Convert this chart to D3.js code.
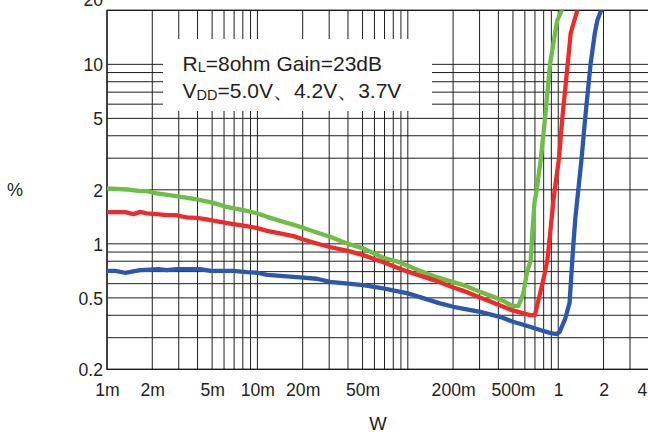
<!DOCTYPE html>
<html><head><meta charset="utf-8">
<script src="https://cdn.jsdelivr.net/npm/d3@7"></script>
<style>
html,body{margin:0;padding:0;background:#fff;}
svg{display:block;font-family:"Liberation Sans",Arial,sans-serif;}
</style></head>
<body>
<svg id="c" width="648" height="437"></svg>
<script>
// ---- data ----
const greenX = [0.001,0.00135,0.00166,0.00184,0.00214,0.0029,0.00395,0.0051,0.0062,0.0081,0.01,0.0116,0.0149,0.0192,0.0248,0.0304,0.0406,0.0506,0.0687,0.0887,0.1146,0.1478,0.2009,0.234,0.302,0.371,0.432,0.491,0.543,0.586,0.618,0.656,0.675,0.695,0.719,0.767,0.817,0.882,0.952,0.986,1.055];
const greenY = [2.035,2.008,1.965,1.965,1.909,1.842,1.767,1.692,1.607,1.541,1.477,1.414,1.326,1.244,1.157,1.094,0.996,0.943,0.836,0.788,0.720,0.661,0.612,0.589,0.540,0.507,0.481,0.452,0.450,0.529,0.684,0.811,1.2,1.7,2.0,3.0,5.0,10,14.9,17.6,20];
const redX = [0.001,0.00132,0.0015,0.00166,0.00184,0.00214,0.00249,0.00283,0.00339,0.00395,0.0046,0.00564,0.00692,0.0085,0.01,0.0116,0.0141,0.0174,0.0202,0.0248,0.0302,0.0406,0.0506,0.0687,0.1,0.1478,0.2009,0.234,0.302,0.371,0.432,0.491,0.557,0.649,0.70,0.757,0.796,0.847,0.883,0.93,0.948,1.012,1.064,1.156,1.21,1.28,1.34];
const redY = [1.502,1.502,1.464,1.507,1.477,1.464,1.445,1.445,1.403,1.396,1.367,1.326,1.287,1.255,1.223,1.181,1.143,1.104,1.058,1.005,0.96,0.91,0.865,0.79,0.70,0.63,0.571,0.547,0.503,0.469,0.446,0.427,0.415,0.401,0.401,0.529,0.628,0.811,1.14,1.75,2.0,3.0,5.0,10,14.9,17.6,20];
const blueX = [0.001,0.00113,0.00132,0.00166,0.0022,0.0025,0.0029,0.00415,0.0049,0.0069,0.0085,0.01,0.0116,0.0149,0.0192,0.0248,0.0304,0.0506,0.0687,0.1,0.1637,0.2009,0.302,0.41,0.50,0.649,0.757,0.88,0.973,1.02,1.11,1.19,1.25,1.30,1.36,1.43,1.51,1.64,1.75,1.82,1.93];
const blueY = [0.707,0.707,0.690,0.714,0.723,0.714,0.723,0.723,0.707,0.707,0.696,0.690,0.672,0.661,0.650,0.639,0.614,0.589,0.565,0.53,0.466,0.446,0.418,0.392,0.368,0.345,0.331,0.319,0.314,0.323,0.38,0.47,0.9,1.4,2.0,3.0,5.0,10,14.9,17.6,20];

const seriesNames = ["5.0V","4.2V","3.7V"];
const seriesColors = ["#6cbe45","#ee2b2b","#2b57ad"];

const xTickVals = [0.001,0.002,0.005,0.01,0.02,0.05,0.2,0.5,1,2,4];
const xTickText = ["1m","2m","5m","10m","20m","50m","200m","500m","1","2","4"];
const yTickVals = [0.2,0.5,1,2,5,10,20];
const yTickText = ["0.2","0.5","1","2","5","10","20"];

const xTitle = "W";
const yTitle = "%";

// ---- drawing ----
const svg = d3.select("#c");
const L = 107, R = 648.8, T = 10.3, B = 369.3;
const x = d3.scaleLog().domain([0.001, 4]).range([L, R]);
const y = d3.scaleLog().domain([0.2, 20]).range([B, T]);

svg.append("rect").attr("width",648).attr("height",437).attr("fill","#fff");

const grid = svg.append("g").attr("stroke","#1e1e1e").attr("stroke-width",1);
grid.selectAll("line.v").data(x.ticks()).join("line")
  .attr("x1",d=>x(d)).attr("x2",d=>x(d)).attr("y1",T).attr("y2",B);
grid.selectAll("line.h").data(y.ticks()).join("line")
  .attr("x1",L).attr("x2",R).attr("y1",d=>y(d)).attr("y2",d=>y(d));

// frame
svg.append("path").attr("d",`M${R},${T}H${L}V${B}H${R}`).attr("fill","none")
  .attr("stroke","#1a1a1a").attr("stroke-width",1.3);

// annotation box (white) covering grid
svg.append("rect").attr("x",163).attr("y",39).attr("width",269).attr("height",72).attr("fill","#fff");

// curves
svg.append("clipPath").attr("id","clip").append("rect")
  .attr("x",L).attr("y",T).attr("width",R-L).attr("height",B-T);
const line = d3.line().x(d=>x(d[0])).y(d=>y(d[1]));
const series = [
  {xs:greenX, ys:greenY, c:seriesColors[0]},
  {xs:redX, ys:redY, c:seriesColors[1]},
  {xs:blueX, ys:blueY, c:seriesColors[2]}
];
const cg = svg.append("g").attr("clip-path","url(#clip)");
series.forEach(s=>{
  cg.append("path").datum(s.xs.map((v,i)=>[v,s.ys[i]]))
    .attr("d",line).attr("fill","none").attr("stroke",s.c)
    .attr("stroke-width",4.3).attr("stroke-linejoin","round").attr("stroke-linecap","round");
});

// axes
const xa = svg.append("g").attr("transform",`translate(0,${B})`)
  .call(d3.axisBottom(x).tickValues(xTickVals).tickFormat((d,i)=>xTickText[i]).tickSize(0).tickPadding(14));
const ya = svg.append("g").attr("transform",`translate(${L},0)`)
  .call(d3.axisLeft(y).tickValues(yTickVals).tickFormat((d,i)=>yTickText[i]).tickSize(0).tickPadding(4));
[xa,ya].forEach(a=>{
  a.select(".domain").remove();
  a.selectAll("text").attr("font-family","Liberation Sans, Arial, sans-serif")
    .attr("font-size",17.6).attr("fill","#231f20");
});
ya.selectAll("text").attr("dy",6.3);
ya.selectAll(".tick").filter(d=>d===20).select("text").attr("dy",-4.6);
xa.selectAll(".tick").filter(d=>d===4).select("text").attr("dx",-7);

// titles
svg.append("text").attr("x",15).attr("y",196).attr("text-anchor","middle")
  .attr("font-size",18).attr("fill","#231f20").text(yTitle);
svg.append("text").attr("x",378).attr("y",430).attr("text-anchor","middle")
  .attr("font-size",18.5).attr("fill","#231f20").text(xTitle);

// annotation text
const t1 = svg.append("text").attr("x",182.5).attr("y",70.7).attr("font-size",21).attr("fill","#231f20");
t1.append("tspan").text("R");
t1.append("tspan").attr("font-size",14.5).attr("dy",1).text("L");
t1.append("tspan").attr("dy",-1).text("=8ohm Gain=23dB");
const t2 = svg.append("text").attr("x",182.5).attr("y",98.3).attr("font-size",21).attr("fill","#231f20");
t2.append("tspan").text("V");
t2.append("tspan").attr("font-size",14.5).attr("dy",1.7).text("DD");
t2.append("tspan").attr("dy",-1.7).text("=5.0V、4.2V、3.7V");
</script>
</body></html>
